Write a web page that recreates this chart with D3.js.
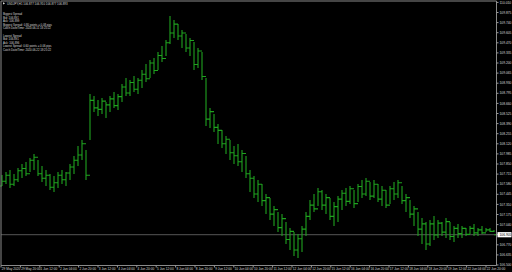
<!DOCTYPE html>
<html>
<head>
<meta charset="utf-8">
<script src="https://d3js.org/d3.v7.min.js"></script>
<style>
  body { margin: 0; background: #000; }
  svg { display: block; }
  text { font-family: "Liberation Sans", Arial, sans-serif; fill: #d8d8d8; }
</style>
</head>
<body>
<svg id="chart" width="512" height="272"></svg>
<script>
  // USDJPY H1, bars (high / low / close per column, open = previous close)
  const barHigh = [107.703,107.744,107.770,107.717,107.797,107.850,107.877,107.931,107.984,107.904,
    107.824,107.770,107.717,107.690,107.744,107.770,107.744,107.850,107.957,108.091,
    108.171,108.038,108.786,108.759,108.706,108.733,108.679,108.759,108.813,108.786,
    108.920,109.000,108.973,109.027,109.000,109.107,109.187,109.241,109.267,109.348,
    109.428,109.508,109.829,109.775,109.722,109.642,109.588,109.535,109.481,109.401,
    109.348,109.000,108.599,108.519,108.385,108.305,108.225,108.171,108.091,108.118,
    108.038,107.957,107.770,107.690,107.637,107.583,107.449,107.396,107.289,107.209,
    107.182,107.075,106.995,106.941,106.915,107.022,107.209,107.369,107.449,107.530,
    107.503,107.449,107.396,107.342,107.423,107.503,107.530,107.556,107.503,107.583,
    107.637,107.663,107.610,107.637,107.583,107.556,107.503,107.556,107.610,107.637,
    107.556,107.449,107.369,107.289,107.209,107.129,107.075,107.102,107.155,107.102,
    107.075,107.129,107.075,107.022,107.048,107.022,106.995,107.022,107.048,106.995,
    107.022,106.995,106.995,106.968];
  const barLow = [107.556,107.583,107.530,107.556,107.610,107.663,107.690,107.744,107.770,107.690,
    107.610,107.556,107.503,107.476,107.530,107.583,107.556,107.637,107.717,107.824,
    107.904,107.637,108.171,108.545,108.492,108.519,108.465,108.545,108.599,108.572,
    108.679,108.759,108.759,108.813,108.786,108.866,108.947,109.000,109.054,109.107,
    109.214,109.294,109.455,109.535,109.508,109.401,109.348,109.294,109.107,109.134,
    108.973,108.358,108.332,108.278,108.118,108.064,107.984,107.904,107.850,107.824,
    107.744,107.663,107.476,107.396,107.342,107.289,107.182,107.102,107.022,106.941,
    106.888,106.781,106.701,106.621,106.594,106.674,106.888,107.102,107.209,107.289,
    107.236,107.182,107.102,107.022,107.075,107.236,107.289,107.316,107.262,107.342,
    107.396,107.423,107.369,107.396,107.342,107.289,107.262,107.316,107.369,107.396,
    107.316,107.209,107.129,107.022,106.888,106.781,106.701,106.754,106.834,106.861,
    106.888,106.861,106.834,106.808,106.861,106.861,106.888,106.915,106.888,106.888,
    106.915,106.941,106.941,106.941];
  const barClose = [107.62,107.70,107.58,107.64,107.76,107.79,107.72,107.90,107.94,107.72,
    107.66,107.70,107.54,107.60,107.70,107.64,107.73,107.81,107.90,107.97,
    108.12,107.70,108.70,108.60,108.58,108.69,108.64,108.72,108.63,108.75,
    108.88,108.80,108.94,108.85,108.97,109.05,108.99,109.20,109.10,109.30,
    109.26,109.47,109.60,109.72,109.56,109.60,109.40,109.50,109.18,109.36,
    109.02,108.45,108.55,108.34,108.30,108.12,108.18,108.00,107.96,107.88,
    107.99,107.72,107.66,107.45,107.58,107.36,107.40,107.18,107.24,107.00,
    107.12,106.84,106.95,106.70,106.85,106.98,107.15,107.30,107.25,107.48,
    107.30,107.40,107.15,107.28,107.38,107.46,107.35,107.52,107.32,107.55,
    107.45,107.62,107.42,107.58,107.38,107.50,107.30,107.52,107.45,107.60,
    107.36,107.40,107.18,107.25,106.98,107.05,106.78,107.05,106.90,107.06,
    106.94,107.08,106.88,106.99,106.92,106.99,106.91,106.99,106.93,106.97,
    106.93,106.97,106.95,106.905];

  const priceTicks = [106.500,106.635,106.770,106.905,107.040,107.175,107.310,107.445,107.580,
    107.715,107.850,107.985,108.120,108.255,108.390,108.525,108.660,108.795,108.930,109.065,
    109.200,109.335,109.470,109.605,109.740,109.875,110.010];
  const timeLabels = ["29 May 2020","29 May 20:00","1 Jun 12:00","2 Jun 04:00","2 Jun 20:00",
    "3 Jun 12:00","4 Jun 04:00","4 Jun 20:00","5 Jun 12:00","8 Jun 04:00","8 Jun 20:00",
    "9 Jun 12:00","10 Jun 04:00","10 Jun 20:00","11 Jun 12:00","12 Jun 04:00","12 Jun 20:00",
    "15 Jun 12:00","16 Jun 04:00","16 Jun 20:00","17 Jun 12:00","18 Jun 04:00","18 Jun 20:00",
    "19 Jun 12:00","22 Jun 04:00","22 Jun 20:00"];
  const bidPrice = 106.905;
  const infoLines = ["Biggest Spread", "Bid: 106.891", "Ask: 106.899",
    "Biggest Spread: 0.80 points = 0.08 pips", "Catch Date/Time: 2020.06.11 18:25:22", "",
    "Lowest Spread", "Bid: 106.891", "Ask: 106.896",
    "Lowest Spread: 0.60 points = 0.06 pips", "Catch Date/Time: 2020.06.22 18:25:22"];
  const title = "USDJPY,H1  106.877 106.910 106.877 106.893";

  const svg = d3.select("#chart");
  const W = 512, H = 272;
  const plot = { left: 1, right: 496.5, top: 1, bottom: 265.5 };

  svg.append("rect").attr("width", W).attr("height", H).attr("fill", "#000");

  const y = d3.scaleLinear().domain([106.5, 110.01]).range([265, 2.4]);
  const x = d3.scaleLinear().domain([0, barHigh.length - 1]).range([2, 494]);

  // bid line
  svg.append("line")
      .attr("x1", plot.left).attr("x2", plot.right)
      .attr("y1", y(bidPrice)).attr("y2", y(bidPrice))
      .attr("stroke", "#555").attr("stroke-width", 1);

  // OHLC bars
  const green = "#1fa21f";
  const bars = svg.append("g").attr("stroke", green).attr("fill", "none");
  bars.selectAll("path")
    .data(barHigh)
    .join("path")
      .attr("d", (h, i) => {
        const cx = x(i);
        const open = i ? barClose[i - 1] : barLow[i];
        return `M${cx},${y(h)} V${y(barLow[i])}` +
               ` M${cx - 2},${y(open)} H${cx}` +
               ` M${cx},${y(barClose[i])} H${cx + 2}`;
      })
      .attr("stroke-width", 1.1);

  // frame
  svg.append("path")
      .attr("d", `M${plot.left},${plot.top} V${plot.bottom} H${plot.right} V${plot.top} H${plot.left}`)
      .attr("fill", "none").attr("stroke", "#8a8a8a").attr("stroke-width", 1);

  // price axis
  const ya = svg.append("g");
  priceTicks.forEach(p => {
    ya.append("line").attr("x1", plot.right).attr("x2", plot.right + 2)
        .attr("y1", y(p)).attr("y2", y(p)).attr("stroke", "#9a9a9a");
    ya.append("text").attr("x", 499.5).attr("y", y(p) + 1.1)
        .attr("font-size", 3.3).text(p.toFixed(3));
  });
  svg.append("rect").attr("x", 497.5).attr("y", y(bidPrice) - 2.6)
      .attr("width", 14).attr("height", 5.2).attr("fill", "#ffffff");
  svg.append("text").attr("x", 499.5).attr("y", y(bidPrice) + 1.1)
      .attr("font-size", 3.3).style("fill", "#000").text(bidPrice.toFixed(3));

  // time axis
  const ta = svg.append("g");
  timeLabels.forEach((t, i) => {
    const tx = 1 + i * 19.4;
    ta.append("line").attr("x1", tx).attr("x2", tx)
        .attr("y1", plot.bottom).attr("y2", plot.bottom + 2).attr("stroke", "#9a9a9a");
    ta.append("text").attr("x", tx + 0.8).attr("y", 270)
        .attr("font-size", 3.2).text(t);
  });

  // top-left texts
  svg.append("path").attr("d", "M3,2.2 L5.2,3.3 L3,4.4 Z").attr("fill", "#d8d8d8");
  svg.append("text").attr("x", 7).attr("y", 4.6).attr("font-size", 2.9).text(title);
  infoLines.forEach((s, i) => {
    svg.append("text").attr("x", 3).attr("y", 15 + i * 3.6)
        .attr("font-size", 2.8).text(s);
  });
</script>
</body>
</html>
